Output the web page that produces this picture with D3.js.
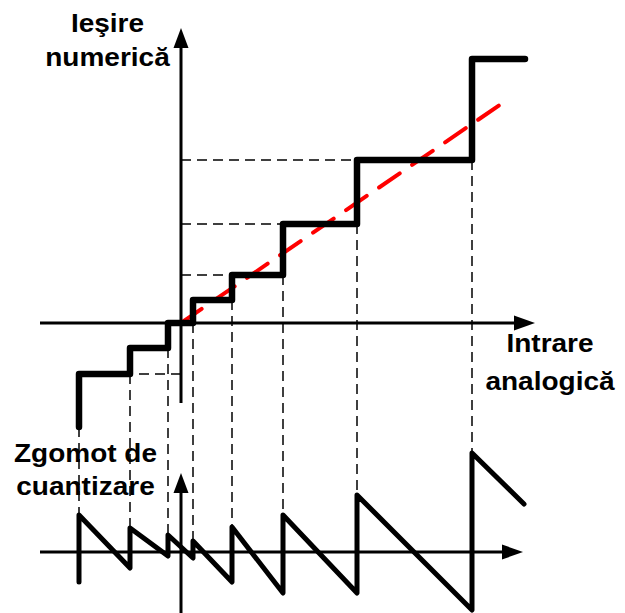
<!DOCTYPE html>
<html>
<head>
<meta charset="utf-8">
<script src="https://cdn.jsdelivr.net/npm/d3@7"></script>
<style>
  html, body { margin: 0; padding: 0; background: #fff; }
  svg { display: block; }
  text { font-family: "Liberation Sans", Arial, sans-serif; font-weight: bold; }
</style>
</head>
<body>
<svg id="chart" width="625" height="613"></svg>
<script>
// Input values where the quantizer output jumps to the next level
const thresholds = [-10.2, -5.1, -1.3, 1.2, 5.1, 10.2, 17.6, 29.1];
// Output level held after each threshold
const levels = [-5.1, -2.5, 0, 2.3, 4.8, 9.9, 16.3, 26.4];
// Start of the staircase (bottom of the first riser) and end of the last tread
const stairStart = { x: -10.2, y: -10.4 };
const stairEndX = 34.4;
// Ideal (unquantized) transfer line end point
const idealEnd = { x: 32.6, y: 22.3 };
// Quantization error: value just before and just after each threshold
const noiseLow = [-3.0, -1.6, -0.4, -0.6, -3.0, -4.1, -4.1, -5.8];
const noiseHigh = [3.7, 2.4, 1.7, 1.1, 2.5, 3.7, 5.7, 9.9];
const noiseEnd = { x: 34.3, y: 4.8 };
// Levels that get a dashed guide to the output axis
const guideLevels = [0, 4, 5, 6];

const svg = d3.select("#chart");

// Scales: input axis shared, separate vertical scales for output and error plots
const x = d3.scaleLinear().domain([-18.1, 44.4]).range([0, 625]);
const yOut = d3.scaleLinear().domain([-29, 32.3]).range([613, 0]);
const yErr = d3.scaleLinear().domain([-6.1, 55.2]).range([613, 0]);

const line = (ys) => d3.line().x(d => x(d[0])).y(d => ys(d[1]));
const pxLine = d3.line();

// ---- Labels ----
function label(lines, cx, baselines) {
  lines.forEach((t, i) => {
    svg.append("text")
      .attr("transform", `translate(${cx},${baselines[i]}) scale(1.12,1)`)
      .attr("text-anchor", "middle")
      .attr("font-size", 25)
      .attr("fill", "#000")
      .text(t);
  });
}
label(["Ieşire", "numerică"], 107.5, [32, 66]);
label(["Intrare", "analogică"], 550, [352, 390]);
label(["Zgomot de", "cuantizare"], 85.5, [462, 495]);

// ---- Dashed guides ----
const guides = svg.append("g")
  .attr("stroke", "#000").attr("stroke-width", 1.5)
  .attr("stroke-dasharray", "10,6").attr("fill", "none");

// Horizontal guides from the output axis to the nearest step corner
guideLevels.forEach(i => {
  const lv = levels[i];
  const xEnd = lv < 0 ? thresholds[i + 1] : thresholds[i];
  guides.append("path").attr("d", line(yOut)([[0, lv], [xEnd, lv]]));
});

// Vertical guides from each step corner down to the error peak
thresholds.forEach((t, i) => {
  const from = i === 0 ? stairStart.y : levels[i - 1];
  guides.append("path").attr("d", pxLine([[x(t), yOut(from)], [x(t), yErr(noiseHigh[i])]]));
});

// ---- Axes ----
function arrowUp(px, tipY) {
  svg.append("path").attr("d", `M${px},${tipY} L${px - 7.5},${tipY + 20} L${px + 7.5},${tipY + 20} Z`).attr("fill", "#000");
}
function arrowRight(tipX, py) {
  svg.append("path").attr("d", `M${tipX},${py} L${tipX - 21},${py - 7.5} L${tipX - 21},${py + 7.5} Z`).attr("fill", "#000");
}
const axes = svg.append("g").attr("stroke", "#000").attr("stroke-width", 3).attr("fill", "none");

// Output plot axes
axes.append("line").attr("x1", x(0)).attr("x2", x(0)).attr("y1", yOut(-8)).attr("y2", yOut(28.5));
arrowUp(x(0), yOut(29.5));
axes.append("line").attr("x1", x(-14.1)).attr("x2", x(33.5)).attr("y1", yOut(0)).attr("y2", yOut(0));
arrowRight(x(35.4), yOut(0));

// Error plot axes
axes.append("line").attr("x1", x(0)).attr("x2", x(0)).attr("y1", yErr(-6.1)).attr("y2", yErr(6.5));
arrowUp(x(0), yErr(7.9));
axes.append("line").attr("x1", x(-14.1)).attr("x2", x(32.5)).attr("y1", yErr(0)).attr("y2", yErr(0));
arrowRight(x(34.2), yErr(0));

// ---- Ideal transfer line (red dashed) ----
svg.append("path")
  .attr("d", line(yOut)([[0, 0], [idealEnd.x, idealEnd.y]]))
  .attr("stroke", "#ff0000").attr("stroke-width", 4)
  .attr("stroke-dasharray", "25,15").attr("stroke-linecap", "round")
  .attr("fill", "none");

// ---- Quantizer staircase ----
const stairs = [[stairStart.x, stairStart.y]];
thresholds.forEach((t, i) => {
  if (i > 0) stairs.push([t, levels[i - 1]]);
  stairs.push([t, levels[i]]);
});
stairs.push([stairEndX, levels[levels.length - 1]]);
svg.append("path")
  .attr("d", line(yOut)(stairs))
  .attr("stroke", "#000").attr("stroke-width", 6.5)
  .attr("stroke-linejoin", "round").attr("stroke-linecap", "round")
  .attr("fill", "none");

// ---- Quantization error sawtooth ----
const saw = [];
thresholds.forEach((t, i) => {
  saw.push([t, noiseLow[i]]);
  saw.push([t, noiseHigh[i]]);
});
saw.push([noiseEnd.x, noiseEnd.y]);
svg.append("path")
  .attr("d", line(yErr)(saw))
  .attr("stroke", "#000").attr("stroke-width", 5)
  .attr("stroke-linejoin", "round").attr("stroke-linecap", "round")
  .attr("fill", "none");
</script>
</body>
</html>
